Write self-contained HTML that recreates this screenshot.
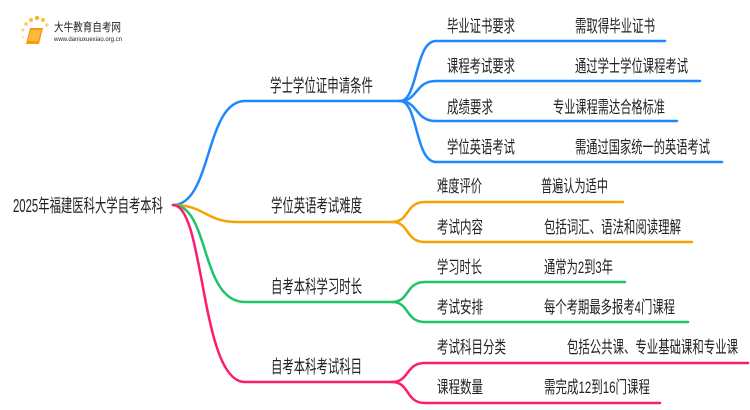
<!DOCTYPE html>
<html><head><meta charset="utf-8"><style>
html,body{margin:0;padding:0;background:#fff}
svg{display:block}
text{font-family:"Liberation Sans","Noto Sans CJK SC",sans-serif;fill:#222}
</style></head><body>
<svg width="750" height="410" viewBox="0 0 750 410" xmlns="http://www.w3.org/2000/svg">
<g fill="none" stroke-width="2.5" stroke-linecap="round">
<path d="M173,205 C212,205 205,101 245,101 L400,101" stroke="#1e88ff"/>
<path d="M173,205 C205,205 205,222 238,222 L392,222" stroke="#f5a300"/>
<path d="M173,205 C210,205 200,302 245,302 L392,302" stroke="#1dc46a"/>
<path d="M173,205 C205,205 200,382 245,382 L392,382" stroke="#ff1a6e"/>
<path d="M400,101 C418,101 415,41 436,41 L665,41" stroke="#1e88ff"/>
<path d="M400,101 C418,101 415,81 436,81 L700,81" stroke="#1e88ff"/>
<path d="M400,101 C418,101 415,121 436,121 L677,121" stroke="#1e88ff"/>
<path d="M400,101 C418,101 415,162 436,162 L722,162" stroke="#1e88ff"/>
<path d="M392,222 C410,222 405,202 425,202 L623,202" stroke="#f5a300"/>
<path d="M392,222 C410,222 405,242 425,242 L692,242" stroke="#f5a300"/>
<path d="M392,302 C410,302 405,282 425,282 L625,282" stroke="#1dc46a"/>
<path d="M392,302 C410,302 405,322 425,322 L688,322" stroke="#1dc46a"/>
<path d="M392,382 C410,382 405,363 425,363 L748,363" stroke="#ff1a6e"/>
<path d="M392,382 C410,382 405,403 425,403 L660,403" stroke="#ff1a6e"/>
</g>
<g>
<circle cx="23" cy="30" r="1.5" fill="#fbd27a"/>
<circle cx="26" cy="24" r="1.8" fill="#fbc95a"/>
<circle cx="31" cy="20" r="2" fill="#fbbf3a"/>
<circle cx="37" cy="18" r="2.2" fill="#f9b52a"/>
<circle cx="43" cy="20" r="2" fill="#f9c040"/>
<circle cx="47" cy="25" r="1.8" fill="#fbd27a"/>
<circle cx="23" cy="37" r="1.3" fill="#fde3a8"/>
<path d="M30,28 L43,28 L39,44 L26,44 Z" fill="#f59a12"/>
<path d="M31,30 L41,30 L38,41 L28,41 Z" fill="#ffb940"/>
<text x="54" y="31" font-size="11.5" textLength="67" lengthAdjust="spacingAndGlyphs" fill="#333">大牛教育自考网</text>
<text x="54" y="41" font-size="6" textLength="68" lengthAdjust="spacingAndGlyphs" fill="#666">www.daniuxuexiao.org.cn</text>
</g>
<g font-size="18">
<text x="13" y="212" textLength="150" lengthAdjust="spacingAndGlyphs">2025年福建医科大学自考本科</text>
<text x="270" y="92" textLength="103" lengthAdjust="spacingAndGlyphs">学士学位证申请条件</text>
<text x="271" y="212" textLength="91" lengthAdjust="spacingAndGlyphs">学位英语考试难度</text>
<text x="271" y="293" textLength="91" lengthAdjust="spacingAndGlyphs">自考本科学习时长</text>
<text x="271" y="373" textLength="91" lengthAdjust="spacingAndGlyphs">自考本科考试科目</text>
</g>
<g font-size="17">
<text x="447" y="32" textLength="68" lengthAdjust="spacingAndGlyphs">毕业证书要求</text>
<text x="575" y="32" textLength="80" lengthAdjust="spacingAndGlyphs">需取得毕业证书</text>
<text x="447" y="72" textLength="68" lengthAdjust="spacingAndGlyphs">课程考试要求</text>
<text x="575" y="72" textLength="113" lengthAdjust="spacingAndGlyphs">通过学士学位课程考试</text>
<text x="447" y="113" textLength="46" lengthAdjust="spacingAndGlyphs">成绩要求</text>
<text x="553" y="113" textLength="112" lengthAdjust="spacingAndGlyphs">专业课程需达合格标准</text>
<text x="447" y="153" textLength="68" lengthAdjust="spacingAndGlyphs">学位英语考试</text>
<text x="575" y="153" textLength="135" lengthAdjust="spacingAndGlyphs">需通过国家统一的英语考试</text>
<text x="437" y="192" textLength="45" lengthAdjust="spacingAndGlyphs">难度评价</text>
<text x="541" y="192" textLength="67" lengthAdjust="spacingAndGlyphs">普遍认为适中</text>
<text x="437" y="233" textLength="46" lengthAdjust="spacingAndGlyphs">考试内容</text>
<text x="544" y="233" textLength="137" lengthAdjust="spacingAndGlyphs">包括词汇、语法和阅读理解</text>
<text x="437" y="273" textLength="45" lengthAdjust="spacingAndGlyphs">学习时长</text>
<text x="544" y="273" textLength="69" lengthAdjust="spacingAndGlyphs">通常为2到3年</text>
<text x="437" y="313" textLength="46" lengthAdjust="spacingAndGlyphs">考试安排</text>
<text x="544" y="313" textLength="131" lengthAdjust="spacingAndGlyphs">每个考期最多报考4门课程</text>
<text x="437" y="353" textLength="69" lengthAdjust="spacingAndGlyphs">考试科目分类</text>
<text x="567" y="353" textLength="171" lengthAdjust="spacingAndGlyphs">包括公共课、专业基础课和专业课</text>
<text x="437" y="393" textLength="46" lengthAdjust="spacingAndGlyphs">课程数量</text>
<text x="544" y="393" textLength="106" lengthAdjust="spacingAndGlyphs">需完成12到16门课程</text>
</g>
</svg>
</body></html>
